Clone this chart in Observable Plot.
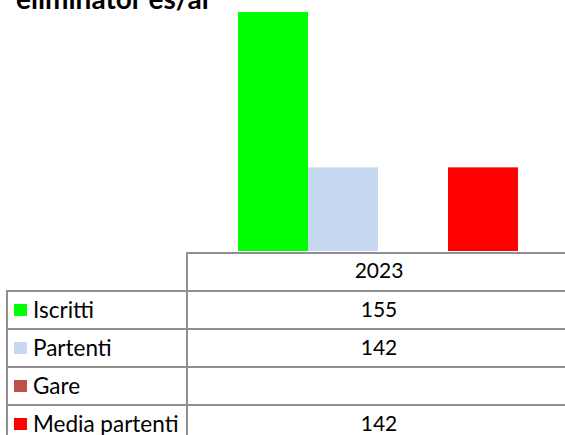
<!DOCTYPE html>
<html><head><meta charset="utf-8">
<script src="https://cdn.jsdelivr.net/npm/d3@7"></script>
<script src="https://cdn.jsdelivr.net/npm/@observablehq/plot@0.6"></script>
<style>
body{margin:0;background:#fff;}
#wrap{position:relative;width:565px;height:435px;overflow:hidden;font-family:Lato,"Open Sans",sans-serif;}
#title{position:absolute;left:16px;top:-16px;font-weight:bold;font-size:28px;line-height:28px;color:#000;white-space:nowrap;}
#chart{position:absolute;left:0;top:0;}
.ln{position:absolute;background:#8f8f8f;}
.tx{position:absolute;color:#000;white-space:nowrap;line-height:38px;}
.sw{position:absolute;width:13px;height:12px;}
</style></head>
<body><div id="wrap"><div id="title">eliminator es/al</div><div id="chart"></div></div>
<script>
const year = "2023";
const series = ["Iscritti", "Partenti", "Gare", "Media partenti"];
const values = [155, 142, null, 142];
const colors = ["#00ff00", "#c6d9f1", "#c0504d", "#ff0000"];

const data = series.map((s, i) => ({series: s, value: values[i]})).filter(d => d.value != null);

const chart = Plot.plot({
  width: 565, height: 252,
  marginTop: 0, marginBottom: 0, marginLeft: 0, marginRight: 0,
  x: {type: "band", domain: series, range: [238, 518], padding: 0, axis: null},
  y: {domain: [135, 155], range: [251, 12], axis: null},
  color: {domain: series, range: colors},
  marks: [
    Plot.rectY(data, {x: "series", y1: 135, y2: "value", fill: "series"})
  ]
});
document.getElementById("chart").appendChild(chart);

// data table
const wrap = document.getElementById("wrap");
function line(x, y, w, h) {
  const d = document.createElement("div"); d.className = "ln";
  Object.assign(d.style, {left: x + "px", top: y + "px", width: w + "px", height: h + "px"});
  wrap.appendChild(d);
}
function text(str, x, y, center, size) {
  const d = document.createElement("div"); d.className = "tx"; d.textContent = str;
  d.style.top = y + "px"; d.style.fontSize = size + "px";
  if (center) { d.style.left = (x - 100) + "px"; d.style.width = "200px"; d.style.textAlign = "center"; }
  else d.style.left = x + "px";
  wrap.appendChild(d);
}
const rowH = 38, top0 = 252, colX = 186, leftX = 6, valX = 379;
line(colX, top0, 565 - colX, 2);
line(colX, top0, 2, 435 - top0);
text(year, valX, top0 - 1, true, 21);
series.forEach((s, i) => {
  const y = top0 + rowH * (i + 1);
  line(leftX, y, 565 - leftX, 2);
  const sw = document.createElement("div"); sw.className = "sw";
  Object.assign(sw.style, {left: "14px", top: (y + 14) + "px", background: colors[i]});
  wrap.appendChild(sw);
  text(s, 33, y + 1, false, 22.5);
  if (values[i] != null) text(String(values[i]), valX, y + 0, true, 21);
});
line(leftX, top0 + rowH, 2, 435 - top0 - rowH);
</script></body></html>
